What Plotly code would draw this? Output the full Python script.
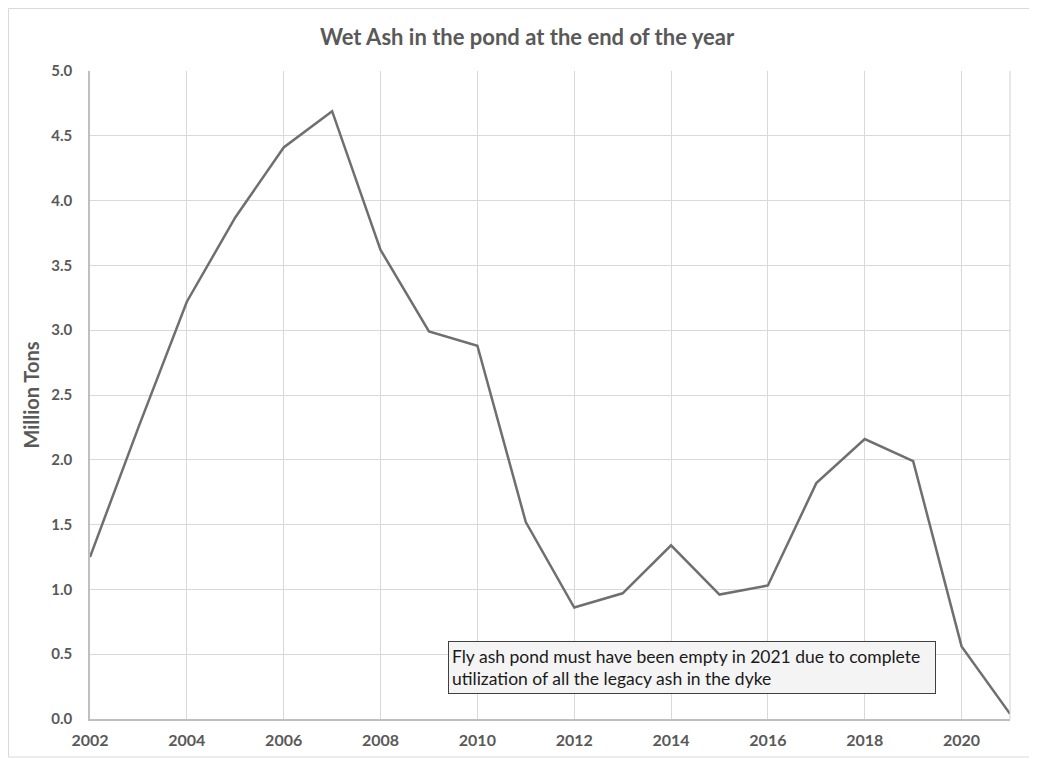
import plotly.graph_objects as go

years = list(range(2002, 2022))
wet_ash = [1.25, 2.25, 3.22, 3.87, 4.41, 4.69, 3.62, 2.99, 2.88, 1.52,
           0.86, 0.97, 1.34, 0.96, 1.03, 1.82, 2.16, 1.99, 0.56, 0.04]
x_ticks = list(range(2002, 2021, 2))
y_ticks = [0.0, 0.5, 1.0, 1.5, 2.0, 2.5, 3.0, 3.5, 4.0, 4.5, 5.0]

title_text = "Wet Ash in the pond at the end of the year"
y_title = "Million Tons"
note_text = ("Fly ash pond must have been empty in 2021 due to complete<br>"
             "utilization of all the legacy ash in the dyke")

FONT = "Lato, Carlito, Calibri, sans-serif"
GRAY = "#595959"
W, H = 1037, 759
L, R, T, B = 82, 35, 63, 48
PW, PH = W - L - R, H - T - B

fig = go.Figure()
fig.add_trace(go.Scatter(
    x=years, y=wet_ash, mode="lines",
    line=dict(color="#6f6f6f", width=2.5),
    showlegend=False, cliponaxis=True,
))

fig.update_layout(
    width=W, height=H,
    margin=dict(l=L, r=R, t=T, b=B, autoexpand=False),
    paper_bgcolor="white", plot_bgcolor="white",
    title=dict(text=f"<b>{title_text}</b>", x=519/W, xref="container", xanchor="center",
               y=1 - 29/H, yref="container", yanchor="middle",
               font=dict(family=FONT, size=22, color=GRAY)),
    xaxis=dict(range=[2002, 2021], tickvals=x_ticks, ticktext=[str(v) for v in x_ticks],
               showgrid=True, gridcolor="#d9d9d9", gridwidth=1,
               showline=True, linecolor="#bfbfbf", linewidth=1.5,
               zeroline=False, ticks="", ticklabelstandoff=6, automargin=False,
               tickfont=dict(family=FONT, size=16, color=GRAY, weight="bold")),
    yaxis=dict(range=[0, 5], tickvals=y_ticks, ticktext=[f"{v:.1f}" for v in y_ticks],
               showgrid=True, gridcolor="#d9d9d9", gridwidth=1,
               showline=True, linecolor="#bfbfbf", linewidth=1.5,
               zeroline=False, ticks="", ticklabelstandoff=13, automargin=False,
               tickfont=dict(family=FONT, size=15, color=GRAY, weight="bold"),
               title=dict(text=f"<b>{y_title}</b>", standoff=6,
                          font=dict(family=FONT, size=20, color=GRAY))),
)

# right plot-area border
fig.add_shape(type="line", xref="x domain", yref="y domain", x0=1, x1=1, y0=0, y1=1,
              line=dict(color="#d0d0d0", width=1))
# outer chart frame
fig.add_shape(type="rect", xref="paper", yref="paper",
              x0=(0.5 - L) / PW, x1=(1025 - L) / PW,
              y0=(PH + T - 749) / PH, y1=(PH + T - 0.5) / PH,
              line=dict(color="#d9d9d9", width=1), fillcolor="rgba(0,0,0,0)")

fig.add_annotation(
    text=note_text, xref="paper", yref="paper",
    x=(440 - L) / PW, y=(PH + T - 633) / PH, xanchor="left", yanchor="top",
    showarrow=False, align="left", valign="middle",
    width=480, height=45, borderpad=3,
    bgcolor="#f4f4f4", bordercolor="#404040", borderwidth=1,
    font=dict(family=FONT, size=17.5, color="#1a1a1a"),
)

fig.write_html("out.html")
